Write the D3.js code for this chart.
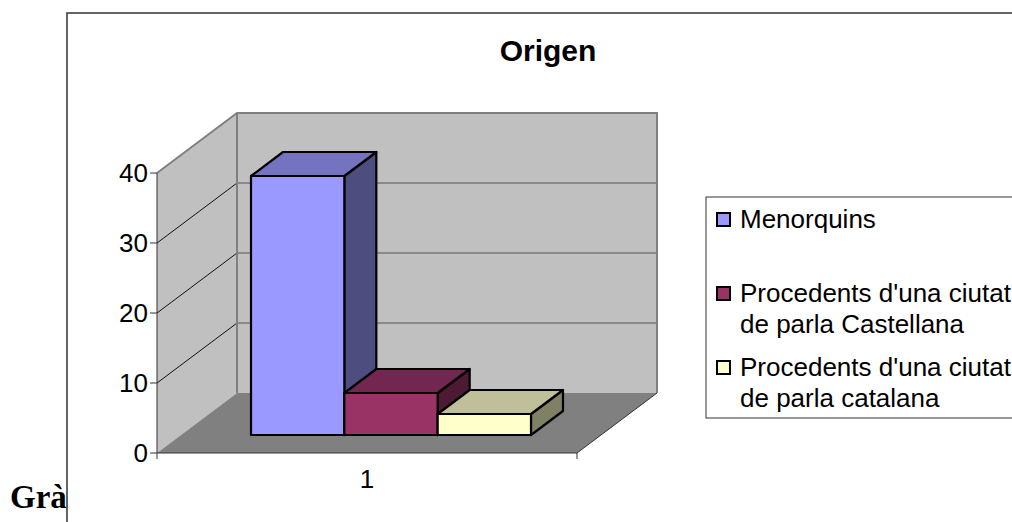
<!DOCTYPE html>
<html>
<head>
<meta charset="utf-8">
<script src="https://cdn.jsdelivr.net/npm/d3@7"></script>
<style>
  html, body { margin: 0; padding: 0; background: #fff; overflow: hidden; }
  svg { display: block; }
  text { font-family: "Liberation Sans", Arial, sans-serif; fill: #000; }
</style>
</head>
<body>
<div id="chart"></div>
<script>
const title = 'Origen';
const caption = 'Gràfic';
const category = '1';
const seriesNames = ['Menorquins', "Procedents d'una ciutat de parla Castellana", "Procedents d'una ciutat de parla catalana"];
const seriesValues = [37, 6, 3];
const legendLines = [['Menorquins'], ["Procedents d'una ciutat", 'de parla Castellana'], ["Procedents d'una ciutat", 'de parla catalana']];
const frontColors = ['#9999ff', '#993366', '#ffffcc'];
const topColors = ['#7373bf', '#732650', '#bfbf99'];
const sideColors = ['#4d4d80', '#4d1a33', '#808066'];
const yTicks = [0, 10, 20, 30, 40];

const width = 1012, height = 522;
const svg = d3.select('#chart').append('svg').attr('width', width).attr('height', height);

// caption sits behind the chart frame, which cuts it off
svg.append('text').attr('x', 10).attr('y', 508)
  .style('font-family', '"Liberation Serif", serif').style('font-weight', 'bold').style('font-size', '33px')
  .text(caption);

svg.append('rect').attr('x', 67).attr('y', 13).attr('width', width).attr('height', height)
  .attr('fill', '#fff').attr('stroke', '#333').attr('stroke-width', 1.5);

svg.append('text').attr('x', 548).attr('y', 60.5).attr('text-anchor', 'middle')
  .style('font-weight', 'bold').style('font-size', '30px').text(title);

// oblique projection: x along the floor, y is value, d is depth into the box
const x = d3.scaleBand().domain(seriesNames).range([157, 577]).paddingInner(0).paddingOuter(0.75);
const y = d3.scaleLinear().domain([0, 40]).range([453, 173]);
const skewX = 80, skewY = -60;
const pt = (px, v, d) => [px + d * skewX, y(v) + d * skewY];
const poly = pts => d3.line()(pts) + 'Z';

const x0 = x.range()[0], x1 = x.range()[1];
const g = svg.append('g');

// walls and floor
g.append('path').attr('d', poly([pt(x0, 0, 0), pt(x0, 40, 0), pt(x0, 40, 1), pt(x0, 0, 1)]))
  .attr('fill', '#c0c0c0').attr('stroke', 'none');
g.append('path').attr('d', poly([pt(x0, 0, 1), pt(x0, 40, 1), pt(x1, 40, 1), pt(x1, 0, 1)]))
  .attr('fill', '#c0c0c0').attr('stroke', 'none');
g.append('path').attr('d', poly([pt(x0, 0, 0), pt(x0, 0, 1), pt(x1, 0, 1), pt(x1, 0, 0)]))
  .attr('fill', '#808080').attr('stroke', 'none');

// gridlines
const grid = yTicks.filter(t => t > 0 && t < 40);
g.selectAll('.grid-side').data(grid).join('path').attr('class', 'grid-side')
  .attr('d', t => d3.line()([pt(x0, t, 0), pt(x0, t, 1)])).attr('fill', 'none').attr('stroke', '#111').attr('stroke-width', 1);
g.selectAll('.grid-back').data(grid).join('path').attr('class', 'grid-back')
  .attr('d', t => d3.line()([pt(x0, t, 1), pt(x1, t, 1)])).attr('fill', 'none').attr('stroke', '#555').attr('stroke-width', 1);

// wall outlines
g.append('path').attr('d', d3.line()([pt(x0, 40, 0), pt(x0, 40, 1), pt(x1, 40, 1), pt(x1, 0, 1)]))
  .attr('fill', 'none').attr('stroke', '#808080').attr('stroke-width', 2);
g.append('path').attr('d', d3.line()([pt(x0, 40, 1), pt(x0, 0, 1)]))
  .attr('fill', 'none').attr('stroke', '#808080').attr('stroke-width', 2);

// axes
g.append('path').attr('d', d3.line()([pt(x0, 0, 0), pt(x0, 40, 0)])).attr('fill', 'none').attr('stroke', '#333').attr('stroke-width', 1);
g.append('path').attr('d', d3.line()([pt(x0, 0, 0), pt(x1, 0, 0), pt(x1, 0, 1)])).attr('fill', 'none').attr('stroke', '#333').attr('stroke-width', 1);
g.selectAll('.ytick').data(yTicks).join('line').attr('class', 'ytick')
  .attr('x1', x0 - 7).attr('x2', x0).attr('y1', d => y(d)).attr('y2', d => y(d)).attr('stroke', '#333');
g.selectAll('.xtick').data([x0, x1]).join('line').attr('class', 'xtick')
  .attr('x1', d => d).attr('x2', d => d).attr('y1', y(0)).attr('y2', y(0) + 6).attr('stroke', '#333');
g.selectAll('.ylabel').data(yTicks).join('text').attr('class', 'ylabel')
  .attr('x', x0 - 9).attr('y', d => y(d)).attr('dy', '0.35em').attr('text-anchor', 'end')
  .style('font-size', '26px').text(d => d);
g.append('text').attr('x', (x0 + x1) / 2).attr('y', 488).attr('text-anchor', 'middle').style('font-size', '26px').text(category);

// bars only touch along edges, so draw order within a bar is all that matters
const dFront = 0.3, dBack = 0.7;
const bars = g.selectAll('.bar').data(seriesNames).join('g').attr('class', 'bar')
  .attr('stroke', '#000').attr('stroke-width', 2.2).attr('stroke-linejoin', 'round');
bars.append('path').attr('d', (s, i) => {
  const r = x(s) + x.bandwidth(), v = seriesValues[i];
  return poly([pt(r, 0, dFront), pt(r, v, dFront), pt(r, v, dBack), pt(r, 0, dBack)]);
}).attr('fill', (s, i) => sideColors[i]);
bars.append('path').attr('d', (s, i) => {
  const l = x(s), r = l + x.bandwidth(), v = seriesValues[i];
  return poly([pt(l, v, dFront), pt(l, v, dBack), pt(r, v, dBack), pt(r, v, dFront)]);
}).attr('fill', (s, i) => topColors[i]);
bars.append('path').attr('d', (s, i) => {
  const l = x(s), r = l + x.bandwidth(), v = seriesValues[i];
  return poly([pt(l, 0, dFront), pt(l, v, dFront), pt(r, v, dFront), pt(r, 0, dFront)]);
}).attr('fill', (s, i) => frontColors[i]);

// legend, runs off the right edge of the page
const legend = svg.append('g');
legend.append('rect').attr('x', 706).attr('y', 197).attr('width', 400).attr('height', 221)
  .attr('fill', '#fff').attr('stroke', '#333').attr('stroke-width', 1);
const legendY = d3.scalePoint().domain(seriesNames).range([220, 368]);
const items = legend.selectAll('.item').data(seriesNames).join('g').attr('class', 'item')
  .attr('transform', d => `translate(0,${legendY(d)})`);
items.append('rect').attr('x', 717).attr('y', -7).attr('width', 13).attr('height', 13)
  .attr('fill', (d, i) => frontColors[i]).attr('stroke', '#000').attr('stroke-width', 2);
items.selectAll('text').data((d, i) => legendLines[i]).join('text')
  .attr('x', 740).attr('y', (d, i) => 8 + i * 31).style('font-size', '26px').text(d => d);
</script>
</body>
</html>
